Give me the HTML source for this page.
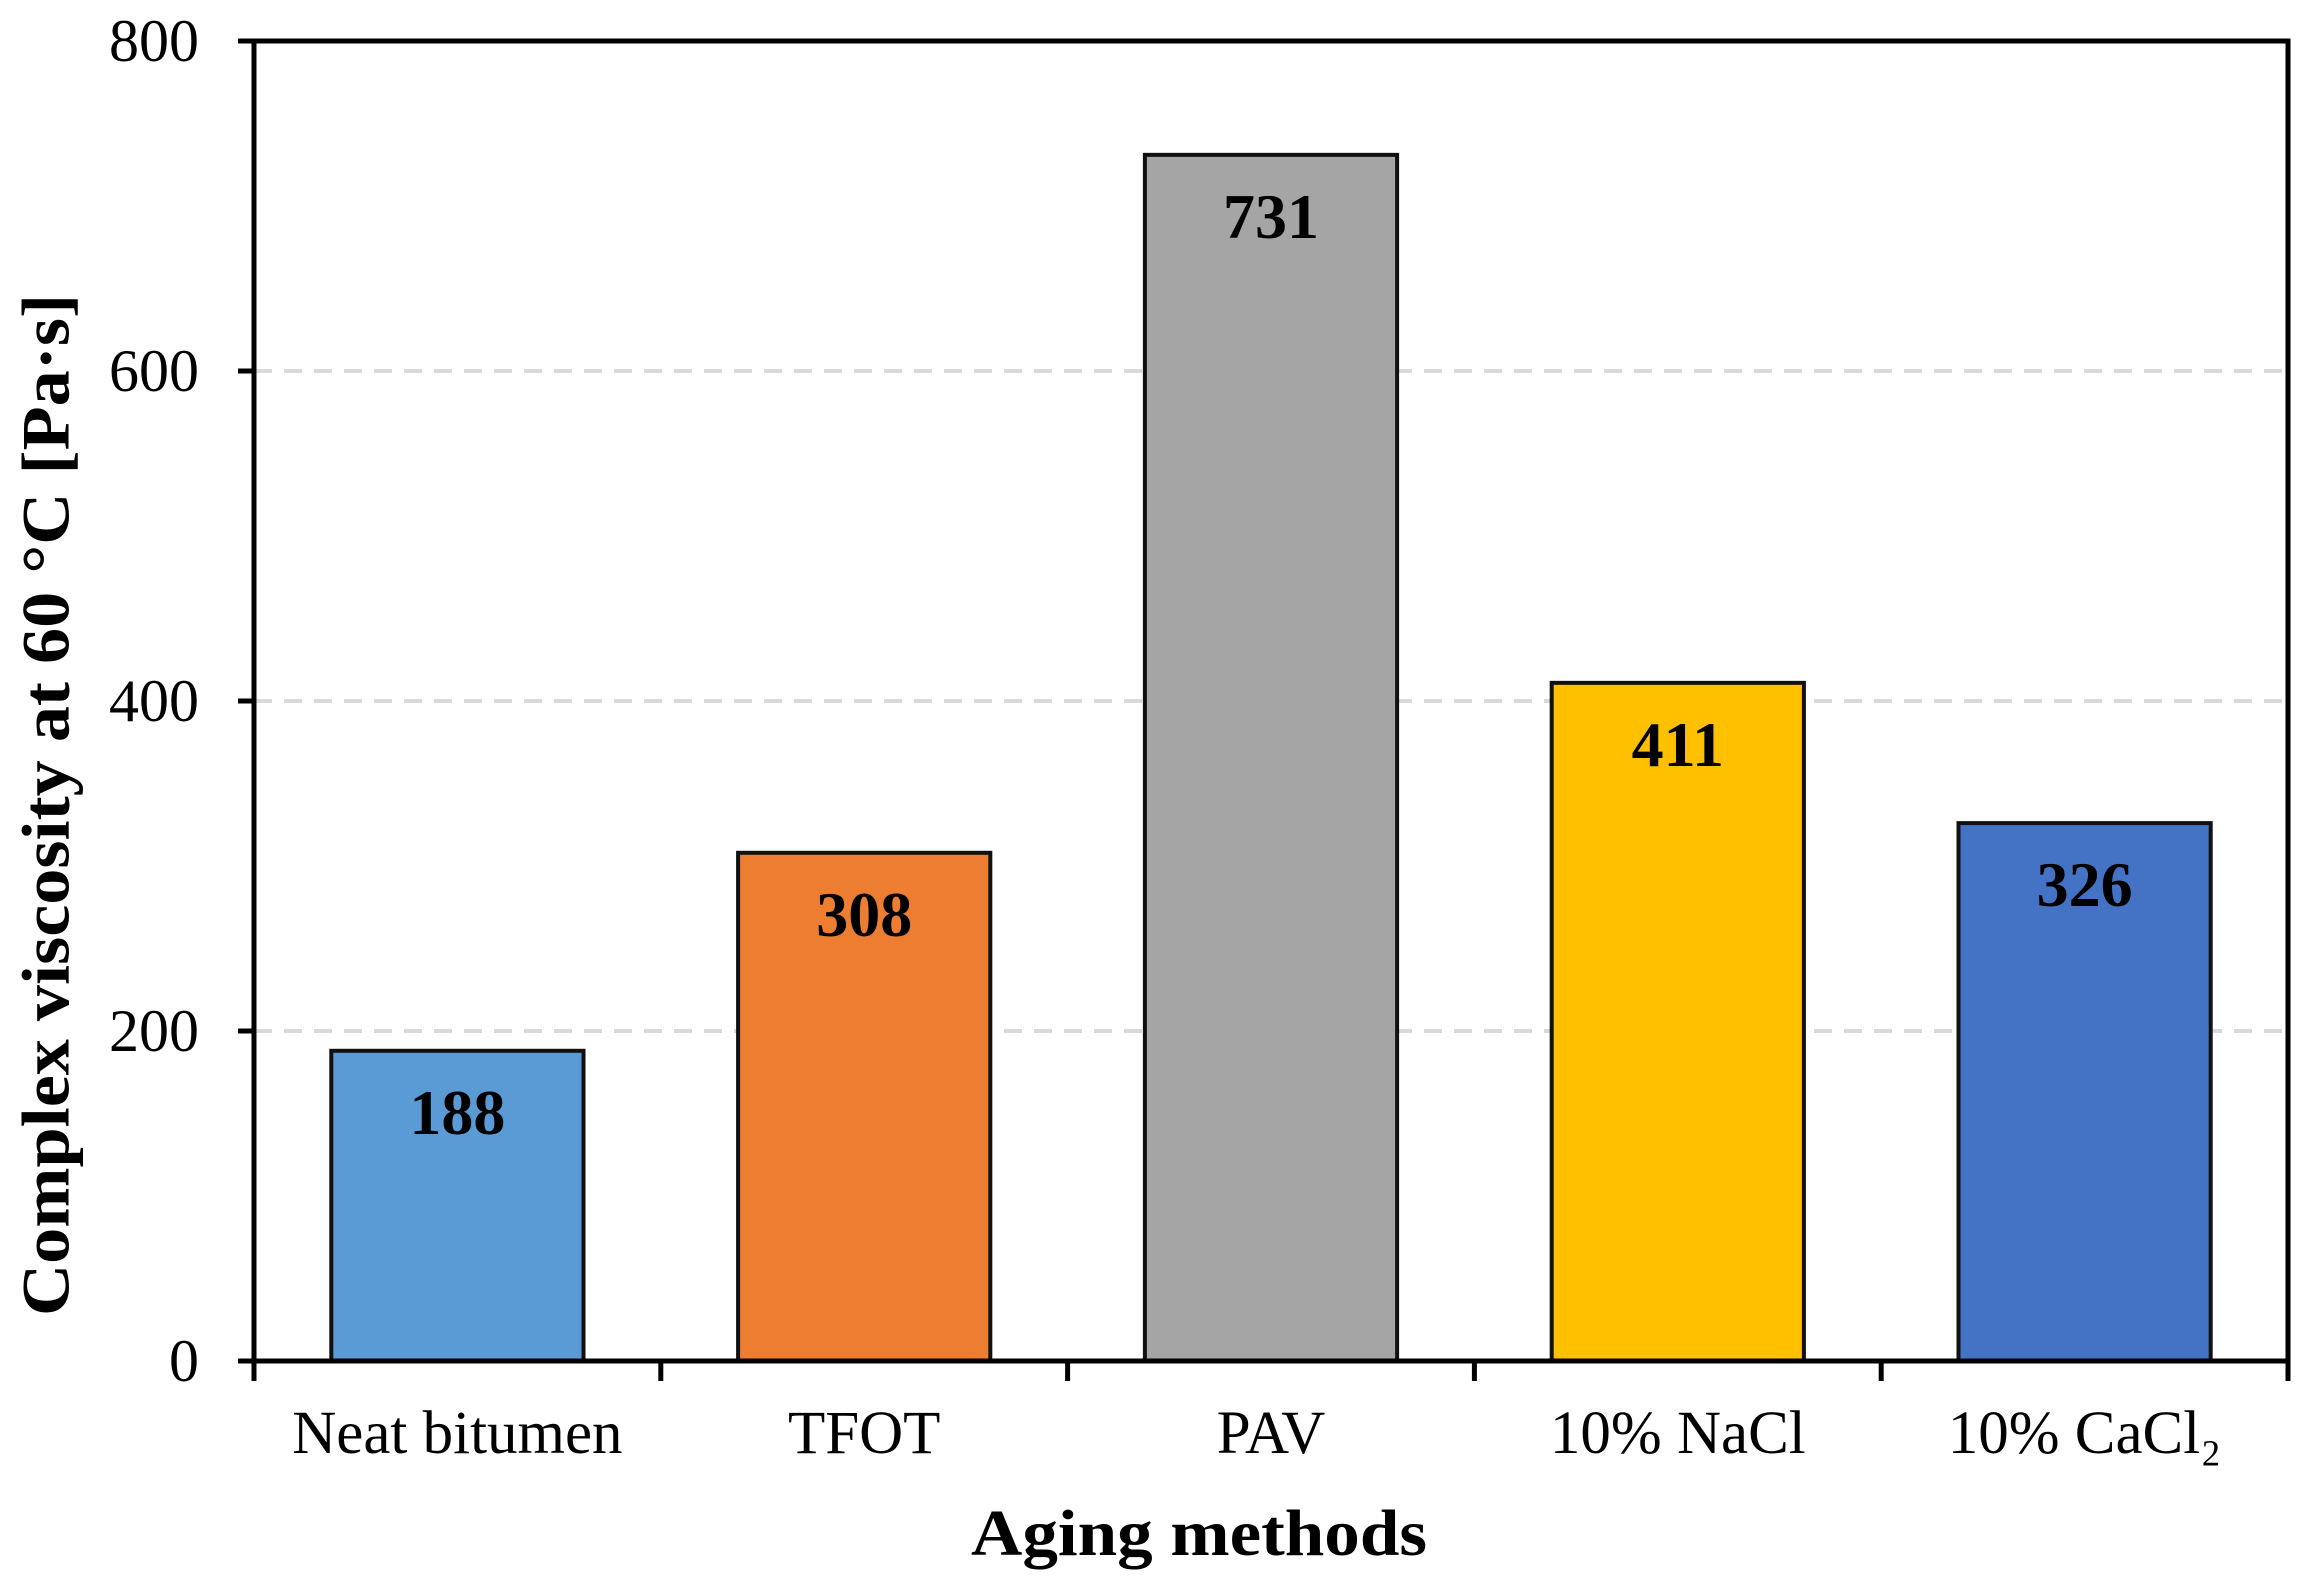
<!DOCTYPE html>
<html><head><meta charset="utf-8"><style>
html,body{margin:0;padding:0;background:#fff;}
svg{display:block;}
text{font-family:"Liberation Serif",serif;fill:#000;}
</style></head><body>
<svg id="chart" width="2307" height="1589" viewBox="0 0 2307 1589">
<g id="grid"></g>
<g id="bars"></g>
<g id="axes"></g>
<text x="53" y="805" font-size="68" font-weight="bold" text-anchor="middle" dominant-baseline="middle" textLength="1022" lengthAdjust="spacingAndGlyphs" transform="rotate(-90 53 805)">Complex viscosity at 60 °C [Pa·s]</text>
<text x="1199" y="1555" font-size="66" font-weight="bold" text-anchor="middle" textLength="456" lengthAdjust="spacingAndGlyphs">Aging methods</text>
</svg>
<script>
const categories = ["Neat bitumen","TFOT","PAV","10% NaCl","10% CaCl₂"];
const values = [188, 308, 731, 411, 326];
const colors = ["#5B9BD5","#ED7D31","#A5A5A5","#FFC000","#4472C4"];
const yTicks = [0, 200, 400, 600, 800];
const gridTicks = [200, 400, 600];

const L = 254, R = 2288, T = 41, B = 1361;
const yMax = 800;
const band = (R - L) / categories.length;
const barW = band * 0.62;
function y(v){ return B - (v / yMax) * (B - T); }
function xc(i){ return L + band * (i + 0.5); }
const NS = "http://www.w3.org/2000/svg";
function mk(tag, attrs, parent){ const e = document.createElementNS(NS, tag); for (const k in attrs) e.setAttribute(k, attrs[k]); parent.appendChild(e); return e; }

const grid = document.getElementById('grid');
gridTicks.forEach(v => {
  const l = mk('line', {x1: L, x2: R, y1: y(v), y2: y(v), stroke: '#d9d9d9', 'stroke-width': 4, 'stroke-dasharray': '18 12'}, grid);
  
  
});

const bars = document.getElementById('bars');
values.forEach((v, i) => {
  const r = mk('rect', {x: xc(i) - barW/2, y: y(v), width: barW, height: B - y(v), fill: colors[i], stroke: '#111', 'stroke-width': 4}, bars);
  
  
  const t = mk('text', {x: xc(i), y: y(v) + 83, 'font-size': 64, 'font-weight': 'bold', 'text-anchor': 'middle'}, bars);
  t.textContent = v;
  
  
});

const axes = document.getElementById('axes');
const frame = mk('rect', {x: L, y: T, width: R - L, height: B - T, fill: 'none', stroke: '#000', 'stroke-width': 5}, axes);


yTicks.forEach(v => {
  const tk = mk('line', {x1: L - 16, x2: L, y1: y(v), y2: y(v), stroke: '#000', 'stroke-width': 5}, axes);
  
  
  const t = mk('text', {x: 199, y: y(v) + 20, 'font-size': 60, 'text-anchor': 'end'}, axes);
  t.textContent = v;
  
  
});
for (let i = 0; i <= categories.length; i++) {
  const tk = mk('line', {x1: L + band*i, x2: L + band*i, y1: B, y2: B + 20, stroke: '#000', 'stroke-width': 5}, axes);
  
  
}
categories.forEach((c, i) => {
  const t = mk('text', {x: xc(i), y: 1453, 'font-size': 61, 'text-anchor': 'middle'}, axes);
  t.textContent = c;
  
  
});
</script>
</body></html>
